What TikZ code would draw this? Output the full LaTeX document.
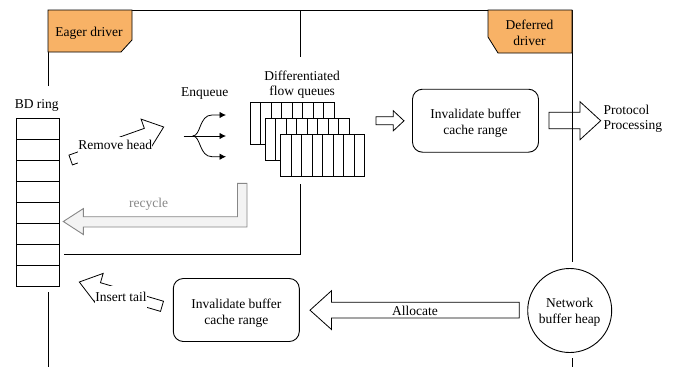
\documentclass[tikz,border=0pt]{standalone}
\usepackage{fontspec}
\setmainfont{Liberation Serif}
\usetikzlibrary{arrows.meta,calc}
\definecolor{tagorange}{RGB}{248,178,102}
\definecolor{recgray}{RGB}{135,135,135}
\definecolor{recfill}{RGB}{243,243,243}
\begin{document}
\begin{tikzpicture}[x=1pt,y=-1pt,
  every node/.style={font=\fontsize{13.5}{15.7}\selectfont, inner sep=0pt},
  frame/.style={draw=black, line width=0.9pt},
  tag/.style={draw=black, fill=tagorange, line width=0.8pt},
  blockarrow/.style={draw=black, line width=0.8pt, fill=white, line join=miter},
  roundbox/.style={draw=black, line width=0.9pt, rounded corners=10pt, minimum width=126pt, minimum height=63pt},
  cell/.style={draw=black, fill=white, line width=0.8pt},
  lbl/.style={align=center},
  forkline/.style={draw=black, line width=0.8pt},
  forktip/.style={-{Latex[length=6.5pt,width=6.5pt]}},
  recyclearrow/.style={draw=recgray, fill=recfill, line width=0.9pt, line join=miter}]

\useasboundingbox (0,0) rectangle (674,367);

% frame lines
\draw[frame] (48,86) -- (48,10) -- (572,10) -- (572,262);
\draw[frame] (300,10) -- (300,57);
\draw[frame] (300,184) -- (300,254) -- (64,254);
\draw[frame] (48,292) -- (48,367);
\draw[frame] (572,358) -- (572,367);

% driver tags
\draw[tag] (48,10) -- (132,10) -- (132,40) -- (121,52) -- (48,52) -- cycle;
\node (eager) [anchor=base] at (89,36) {Eager driver};
\draw[tag] (488,10) -- (572,10) -- (572,53) -- (498,53) -- (488,37) -- cycle;
\node (deferred) [lbl] at (529.5,32.5) {Deferred\\driver};

% BD ring
\node (bdlabel) [anchor=base] at (36.7,108.3) {BD ring};
\foreach \i in {0,...,7} \draw[cell] (16,{118+21*\i}) rectangle (59,{139+21*\i});

% Remove head arrow
\draw[blockarrow] (68.96,155.10) -- (144.34,128.36) -- (141.07,119.13) -- (163.7,127)
   -- (151.09,147.39) -- (147.82,138.16) -- (72.44,164.90) -- cycle;
\node (rh) [anchor=base, fill=white, text height=12pt, text depth=16pt] at (115.3,149.3) {Remove head};

% Insert tail arrow
\draw[blockarrow] (163.49,301.22) -- (100.46,282.70) -- (103.20,273.39) -- (79.3,282)
   -- (94.74,302.17) -- (97.48,292.86) -- (160.51,311.38) -- cycle;
\node (it) [anchor=base, fill=white, text height=15pt, text depth=7pt] at (121,301.3) {Insert tail};

% Enqueue fork
\node (enq) [anchor=base] at (204.7,96.7) {Enqueue};
\coordinate (fk0) at (183.7,136);
\coordinate (fk1) at (192.7,136);
\coordinate (q1) at (226,115);
\coordinate (q2) at (226,136);
\coordinate (q3) at (226,156.7);
\draw[forkline] (fk0) -- (fk1);
\draw[forkline, forktip] (fk1) .. controls (201,136) and (199,115) .. (212,115) -- (q1);
\draw[forkline, forktip] (fk1) -- (q2);
\draw[forkline, forktip] (fk1) .. controls (201,136) and (199,156.7) .. (212,156.7) -- (q3);

% Differentiated flow queues
\node (dfq) [lbl] at (302.2,84.7) {Differentiated\\flow queues};
\foreach \k in {0,1,2} {
  \pgfmathsetmacro\qx{250+15.3*\k}
  \pgfmathsetmacro\qy{102+16*\k}
  \foreach \c in {0,...,7}
    \draw[cell] ({\qx+10.5*\c},\qy) rectangle ({\qx+10.5*(\c+1)},{\qy+42});
}

% small hollow arrow
\draw[blockarrow] (376,116.8) -- (393.3,116.8) -- (393.3,110.8) -- (404,120.8)
   -- (393.3,130.8) -- (393.3,124.8) -- (376,124.8) -- cycle;

% top invalidate box
\node (inv1) [roundbox] at (475.5,120.7) {};
\node (inv1t) [lbl] at (475.5,123) {Invalidate buffer\\cache range};

% protocol processing arrow
\draw[draw=black, line width=0.8pt, line join=miter] (549,112.3) -- (580,112.3) -- (580,101.7) -- (600.7,120.7)
   -- (580,139.7) -- (580,128.7) -- (549,128.7) -- cycle;
\node (proto) [lbl, align=left, anchor=west] at (603.3,118.7) {Protocol\\Processing};

% recycle arrow
\draw[recyclearrow] (237.5,183.3) -- (247,183.3) -- (247,227) -- (83.3,227) -- (83.3,234.5)
   -- (63.3,221.5) -- (83.3,208.6) -- (83.3,216.7) -- (237.5,216.7) -- cycle;
\node (rec) [anchor=base, text=recgray] at (148.7,207.7) {recycle};

% lower invalidate box
\node (inv2) [roundbox] at (236.3,310) {};
\node (inv2t) [lbl] at (236.3,313) {Invalidate buffer\\cache range};

% allocate arrow
\draw[blockarrow] (519.3,302.3) -- (331.5,302.3) -- (331.5,290.7) -- (310,310.2)
   -- (331.5,329.5) -- (331.5,318) -- (519.3,318) -- cycle;
\node (alloc) [anchor=base] at (415,315) {Allocate};

% network buffer heap
\node (heap) [draw=black, line width=0.9pt, circle, minimum size=84pt] at (569.7,310.5) {};
\node (heapt) [lbl] at (569.7,312.4) {Network\\buffer heap};
\end{tikzpicture}
\end{document}
